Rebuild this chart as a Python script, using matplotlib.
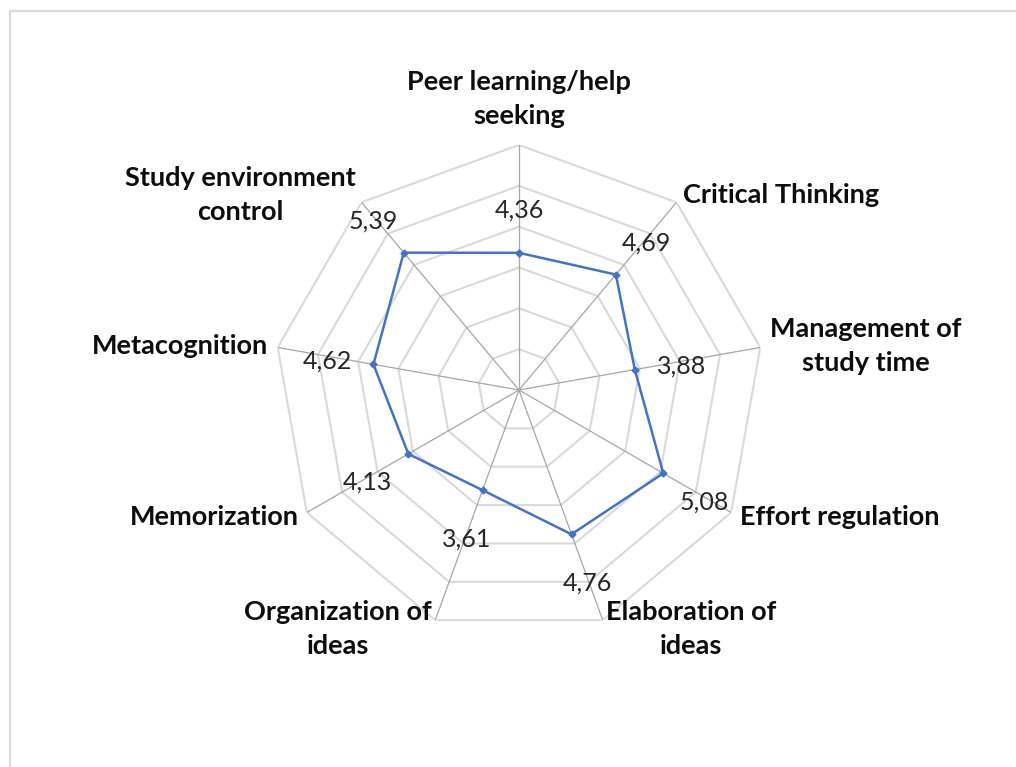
import numpy as np
import matplotlib
matplotlib.use('Agg')
import matplotlib.pyplot as plt
from matplotlib.lines import Line2D

plt.rcParams['font.family'] = ['Lato', 'DejaVu Sans']

# данные лепестковой диаграммы (по часовой стрелке от верха)
categories = ['Peer learning/help\nseeking', 'Critical Thinking', 'Management of\nstudy time',
              'Effort regulation', 'Elaboration of\nideas', 'Organization of\nideas',
              'Memorization', 'Metacognition', 'Study environment\ncontrol']
values = [4.36, 4.69, 3.88, 5.08, 4.76, 3.61, 4.13, 4.62, 5.39]
r_min = 1
r_max = 7
rings = [2, 3, 4, 5, 6, 7]

n = len(categories)
theta = np.arange(n) * 2 * np.pi / n
theta_closed = np.append(theta, theta[0])

W, H = 1016, 767
fig = plt.figure(figsize=(W / 100, H / 100), dpi=100)

# рамка как в Excel
fig.add_artist(Line2D([9.5 / W, 9.5 / W, 1.01], [-0.01, 1 - 11 / H, 1 - 11 / H],
                      transform=fig.transFigure, color='#D9D9D9', lw=1.6))

cx, cy, R = 519, 390, 245
ax = fig.add_axes([(cx - R) / W, (H - cy - R) / H, 2 * R / W, 2 * R / H], projection='polar')
ax.set_theta_zero_location('N')
ax.set_theta_direction(-1)
ax.set_ylim(r_min, r_max)
ax.grid(False)
ax.spines['polar'].set_visible(False)
ax.set_xticks([])
ax.set_yticks([])
ax.patch.set_visible(False)

# кольца-многоугольники
for r in rings:
    ax.plot(theta_closed, [r] * (n + 1), color='#D9D9D9', lw=1.5, zorder=1)
# спицы
for t in theta:
    ax.plot([t, t], [r_min, r_max], color='#A6A6A6', lw=0.9, zorder=2)

vals_closed = values + values[:1]
ax.plot(theta_closed, vals_closed, color='#4472C4', lw=1.8, marker='D', ms=3.5, zorder=3)

# подписи значений
off = 34
for t, v in zip(theta, values):
    ax.annotate(f'{v:.2f}'.replace('.', ','), (t, v),
                xytext=(off * np.sin(t), off * np.cos(t) - 3.5), textcoords='offset points',
                ha='center', va='center', fontsize=18, color='#262626')

# подписи категорий
pad = 7
for t, lab in zip(theta, categories):
    s = np.sin(t)
    p = pad
    if abs(s) < 1e-6:
        ha, va = 'center', 'bottom'
        p = pad + 5
    elif s > 0:
        ha, va = 'left', 'center'
    else:
        ha, va = 'right', 'center'
    ax.annotate(lab, (t, r_max), xytext=(p * s, p * np.cos(t)), textcoords='offset points',
                ha=ha, va=va, multialignment='center', fontsize=19.5, fontweight='bold',
                color='#0D0D0D', linespacing=1.5)

fig.savefig('out.png', dpi=100, facecolor='white')
